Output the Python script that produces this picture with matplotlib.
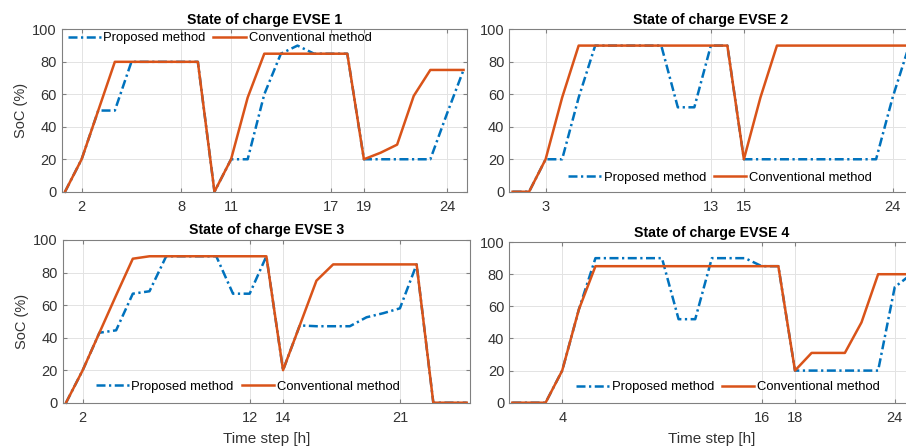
"""State of charge of four EVSEs: proposed vs conventional method."""
import matplotlib
matplotlib.use("Agg")
matplotlib.rcParams["font.family"] = "sans-serif"
matplotlib.rcParams["font.sans-serif"] = ["Liberation Sans", "DejaVu Sans"]
import matplotlib.pyplot as plt
import numpy as np

hours = np.arange(1, 26)

prop1 = [0, 20, 50, 50, 80, 80, 80, 80, 80, 0, 20, 20, 60, 85, 90, 85, 85, 85,
         20, 20, 20, 20, 20, 48, 75]
conv1 = [0, 20, 50, 80, 80, 80, 80, 80, 80, 0, 20, 58, 85, 85, 85, 85, 85, 85,
         20, 24, 29, 59, 75, 75, 75]

prop2 = [0, 0, 20, 20, 58, 90, 90, 90, 90, 90, 52, 52, 90, 90, 20, 20, 20, 20,
         20, 20, 20, 20, 20, 58, 90]
conv2 = [0, 0, 20, 58, 90, 90, 90, 90, 90, 90, 90, 90, 90, 90, 20, 58, 90, 90,
         90, 90, 90, 90, 90, 90, 90]

prop3 = [0, 20, 43, 44.5, 67, 68.5, 90, 90, 90, 90, 67, 67, 90, 20, 47.5, 47,
         47, 47, 52.5, 55, 58, 85, 0, 0, 0]
conv3 = [0, 20, 43, 66, 88.5, 90, 90, 90, 90, 90, 90, 90, 90, 20, 47.5, 75,
         85, 85, 85, 85, 85, 85, 0, 0, 0]

prop4 = [0, 0, 0, 20, 58, 90, 90, 90, 90, 90, 52, 52, 90, 90, 90, 85, 85, 20,
         20, 20, 20, 20, 20, 72, 80]
conv4 = [0, 0, 0, 20, 58, 85, 85, 85, 85, 85, 85, 85, 85, 85, 85, 85, 85, 20,
         31, 31, 31, 50, 80, 80, 80]

xticks = [[2, 8, 11, 17, 19, 24], [3, 13, 15, 24], [2, 12, 14, 21],
          [4, 16, 18, 24]]
titles = ["State of charge EVSE %d" % i for i in range(1, 5)]

BLUE = "#0072BD"
RED = "#D95319"
GRAY = "#808080"

fig = plt.figure(figsize=(9.06, 4.48), dpi=100)
# [left, bottom, width, height] in figure fraction
boxes = [
    [0.0681, 0.572, 0.4472, 0.3625],
    [0.5621, 0.572, 0.4450, 0.3625],
    [0.0692, 0.1011, 0.4496, 0.3632],
    [0.5618, 0.1011, 0.4478, 0.3585],
]
legend_at = [(0.39, 0.946), (0.523, 0.086), (0.455, 0.098), (0.54, 0.096)]

for k, (p, c) in enumerate([(prop1, conv1), (prop2, conv2),
                            (prop3, conv3), (prop4, conv4)]):
    ax = fig.add_axes(boxes[k])
    ax.plot(hours, p, color=BLUE, lw=1.8, ls=(0, (3.6, 1.4, 0.9, 1.4)),
            label="Proposed method", clip_on=False)
    ax.plot(hours, c, color=RED, lw=1.8, label="Conventional method",
            clip_on=False)
    ax.set_xlim(0.8, 25.2)
    ax.set_ylim(0, 100)
    ax.set_xticks(xticks[k])
    ax.set_yticks(range(0, 101, 20))
    ax.grid(True, color="#e3e3e3", lw=0.7)
    ax.set_axisbelow(True)
    ax.tick_params(direction="in", length=3, color=GRAY, labelsize=10.5,
                   labelcolor="#333333", top=True, right=True)
    ax.tick_params(axis="x", pad=6)
    for s in ax.spines.values():
        s.set_color(GRAY)
        s.set_linewidth(0.8)
    ax.set_title(titles[k], fontsize=10.2, fontweight="bold", pad=4)
    ax.legend(loc="center", bbox_to_anchor=legend_at[k], ncol=2,
              frameon=False, fontsize=9.4, handlelength=2.5,
              handletextpad=0.2, columnspacing=0.6, borderpad=0.1)
    if k in (0, 2):
        ax.set_ylabel("SoC (%)", fontsize=10.5, color="#333333", labelpad=3)
    if k in (2, 3):
        ax.set_xlabel("Time step [h]", fontsize=11, color="#333333",
                      labelpad=5)

fig.savefig("out.png", dpi=100)
